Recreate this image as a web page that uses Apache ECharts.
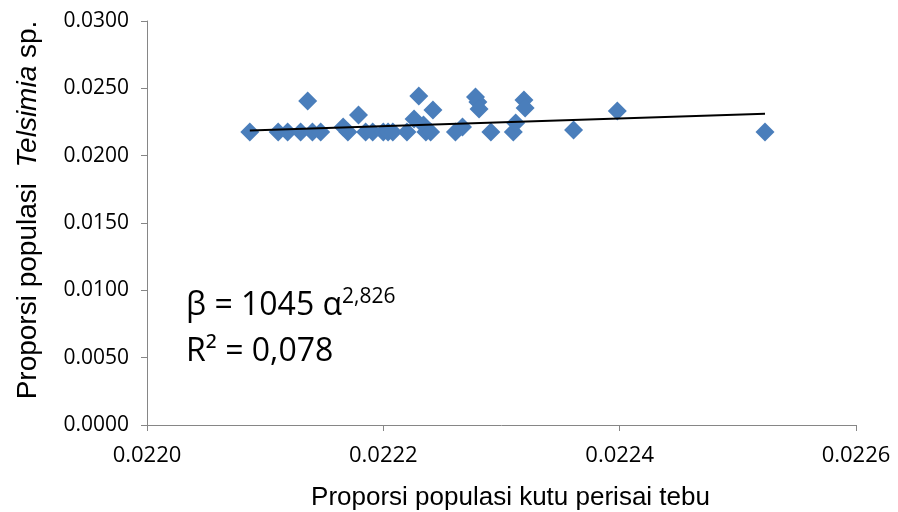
<!DOCTYPE html>
<html>
<head>
<meta charset="utf-8">
<script src="https://cdn.jsdelivr.net/npm/echarts@6/dist/echarts.min.js"></script>
<style>html,body{margin:0;padding:0;background:#fff}#c{width:898px;height:512px}</style>
</head>
<body>
<div id="c"></div>
<script>
const xValues = [0.022087,0.022111,0.022119,0.022130,0.022136,0.022140,0.022147,0.022166,0.022170,0.022179,
  0.022185,0.022191,0.022200,0.022204,0.022208,0.022220,0.022226,0.022230,0.022234,0.022236,
  0.022240,0.022242,0.022261,0.022267,0.022278,0.022280,0.022281,0.022291,0.022310,0.022312,
  0.022319,0.022320,0.022361,0.022398,0.022523];
const yValues = [0.02176,0.02176,0.02176,0.02176,0.02406,0.02176,0.02176,0.02213,0.02176,0.02302,
  0.02176,0.02176,0.02176,0.02176,0.02176,0.02176,0.02272,0.02443,0.02228,0.02176,
  0.02176,0.02339,0.02176,0.02213,0.02436,0.02399,0.02347,0.02176,0.02176,0.02243,
  0.02413,0.02354,0.02191,0.02332,0.02176];
const trendX = [0.022087, 0.022523];
const trendY = [0.02187, 0.02311];
const xTicks = ['0.0220','0.0222','0.0224','0.0226'];
const yTicks = ['0.0000','0.0050','0.0100','0.0150','0.0200','0.0250','0.0300'];

const chart = echarts.init(document.getElementById('c'));
const axisColor = '#868686';
chart.setOption({
  animation: false,
  grid: {left: 147, right: 42, top: 21, bottom: 87, containLabel: false, outerBoundsMode: 'none'},
  xAxis: {
    type: 'value', min: 0.0220, max: 0.0226, interval: 0.0002,
    axisLine: {show: true, lineStyle: {color: axisColor, width: 1}},
    axisTick: {show: true, length: 6, lineStyle: {color: axisColor}},
    splitLine: {show: false},
    axisLabel: {margin: 20, color: '#000', fontFamily: 'Open Sans', fontSize: 22,
      formatter: v => xTicks[Math.round((v - 0.0220) / 0.0002)] || ''},
    name: 'Proporsi populasi kutu perisai tebu', nameLocation: 'middle', nameGap: 60,
    nameTextStyle: {color: '#000', fontFamily: 'Liberation Sans', fontSize: 26, padding: [0,0,0,18]}
  },
  yAxis: {
    type: 'value', min: 0, max: 0.03, interval: 0.005,
    axisLine: {show: true, lineStyle: {color: axisColor, width: 1}},
    axisTick: {show: true, length: 6, lineStyle: {color: axisColor}},
    splitLine: {show: false},
    axisLabel: {margin: 18, color: '#000', fontFamily: 'Open Sans', fontSize: 21,
      formatter: v => yTicks[Math.round(v / 0.005)] || ''},
    name: '{n|Proporsi populasi  }{i|Telsimia}{n| sp.}', nameLocation: 'middle', nameGap: 105,
    nameTextStyle: {color: '#000', padding: [0,0,0,26], rich: {
      n: {fontFamily: 'Liberation Sans', fontSize: 28, color: '#000'},
      i: {fontFamily: 'Liberation Sans', fontSize: 28, fontStyle: 'italic', color: '#000'}
    }}
  },
  series: [
    {
      type: 'scatter', symbol: 'diamond', symbolSize: 19,
      itemStyle: {color: '#4A7EBB', opacity: 1},
      data: xValues.map((x, i) => [x, yValues[i]]), z: 2
    },
    {
      type: 'line', symbol: 'none', lineStyle: {color: '#000', width: 2}, z: 3,
      data: trendX.map((x, i) => [x, trendY[i]])
    }
  ],
  graphic: [
    {type: 'text', x: 186, y: 306, style: {text: 'β = 1045 α', fontFamily: 'Open Sans', fontSize: 32, fill: '#000', verticalAlign: 'middle'}},
    {type: 'text', x: 342, y: 297, style: {text: '2,826', fontFamily: 'Open Sans', fontSize: 21, fill: '#000', verticalAlign: 'middle'}},
    {type: 'text', x: 186, y: 352, style: {text: 'R² = 0,078', fontFamily: 'Open Sans', fontSize: 32, fill: '#000', verticalAlign: 'middle'}}
  ]
});
</script>
</body>
</html>
